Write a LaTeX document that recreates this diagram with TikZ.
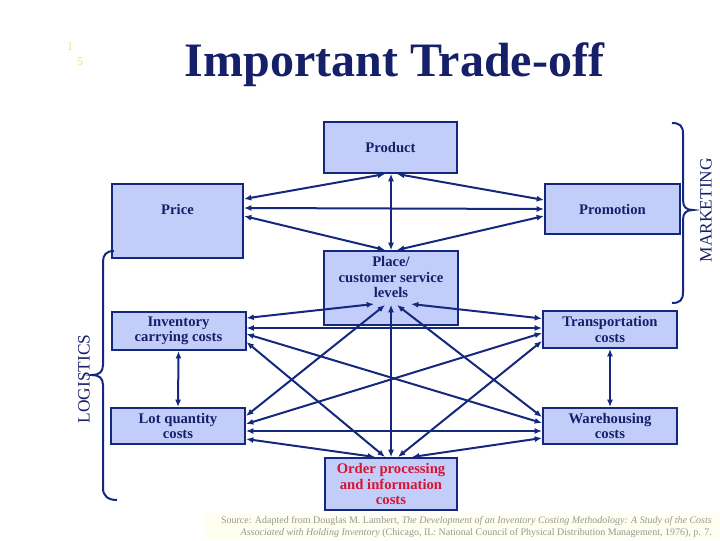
\documentclass[tikz,border=0pt]{standalone}
\usepackage{fontspec}
\setmainfont{Liberation Serif}
\usetikzlibrary{arrows.meta,calc}
\definecolor{navy}{RGB}{20,40,125}
\definecolor{boxfill}{RGB}{194,205,250}
\definecolor{txtnavy}{RGB}{22,32,105}
\definecolor{ordred}{RGB}{215,20,50}
\definecolor{srcbg}{RGB}{255,255,240}
\definecolor{srcgray}{RGB}{150,150,150}
\definecolor{numyel}{RGB}{240,228,110}
\begin{document}
\begin{tikzpicture}[x=0.75pt,y=-0.75pt,
 box/.style={draw=navy,line width=1.5pt,fill=boxfill,inner sep=0pt,align=center,font=\bfseries\fontsize{11}{11.5}\selectfont,text=txtnavy},
 lbl/.style={inner sep=0pt,align=center,font=\bfseries\fontsize{11}{11.5}\selectfont,text=txtnavy},
 link/.style={draw=navy,line width=1.5pt,{Latex[length=5.5pt,width=4.5pt]}-{Latex[length=5.5pt,width=4.5pt]}},
 thinlink/.style={draw=navy,line width=0.8pt,{Latex[length=5.5pt,width=4.5pt]}-{Latex[length=5.5pt,width=4.5pt]}},
 brc/.style={draw=navy,line width=1.5pt},
 side/.style={rotate=90,inner sep=0pt,font=\fontsize{13}{13}\selectfont,text=txtnavy}]
\useasboundingbox (0,0) rectangle (720,540);

% slide number
\node[text=numyel,font=\fontsize{9}{9}\selectfont] (n1) at (70,47) {1};
\node[text=numyel,font=\fontsize{9}{9}\selectfont] (n5) at (80,62) {5};

% title
\node[anchor=base,inner sep=0pt,font=\bfseries\fontsize{36}{36}\selectfont,text=txtnavy] (title) at (394.5,76) {Important Trade-off};

% boxes
\node[box,minimum width=99.75pt,minimum height=38.25pt] (product) at (390.5,147.5) {Product};
\node[box,minimum width=98.25pt,minimum height=55.5pt] (price) at (177.5,221) {};
\node[lbl] (pricet) at (177.5,209) {Price};
\node[box,minimum width=101.25pt,minimum height=37.5pt] (promotion) at (612.5,209) {Promotion};
\node[box,minimum width=100.5pt,minimum height=55.5pt] (place) at (391,288) {};
\node[lbl] (placet) at (391,277) {Place/\\customer service\\levels};
\node[box,minimum width=100.5pt,minimum height=28.5pt] (inventory) at (178.5,331) {Inventory\\carrying costs};
\node[box,minimum width=100.5pt,minimum height=27pt] (lot) at (178,426) {Lot quantity\\costs};
\node[box,minimum width=99pt,minimum height=39pt,text=ordred] (order) at (391,484) {Order processing\\and information\\costs};
\node[box,minimum width=100.5pt,minimum height=27.75pt] (trans) at (610,329.5) {Transportation\\costs};
\node[box,minimum width=100.5pt,minimum height=27pt] (ware) at (610,426) {Warehousing\\costs};

% marketing connectors
\draw[link] ($(product.south)+(-5.5,0)$) -- ($(price.north east)+(0,16)$);
\draw[link] ($(price.north east)+(0,25)$) -- (promotion.west);
\draw[link] ($(price.north east)+(0,33)$) -- ($(place.north)+(-6,0)$);
\draw[thinlink] ($(product.south)+(0.5,0)$) -- (place.north);
\draw[link] ($(product.south)+(6.5,0)$) -- ($(promotion.west)+(0,-9)$);
\draw[link] ($(place.north)+(6,0)$) -- ($(promotion.west)+(0,7)$);

% logistics connectors
\draw[link] ($(place.south)+(-17,-22)$) -- ($(inventory.north east)+(0,7)$);
\draw[link] ($(place.south)+(-6,-21)$) -- ($(lot.north east)+(0,9)$);
\draw[thinlink] ($(place.south)+(0,-21)$) -- (order.north);
\draw[link] ($(place.south)+(6,-21)$) -- ($(ware.north west)+(0,10)$);
\draw[link] ($(place.south)+(20,-22)$) -- ($(trans.north west)+(0,8.5)$);
\draw[link] ($(inventory.north east)+(0,17)$) -- ($(trans.north west)+(0,18)$);
\draw[link] ($(inventory.north east)+(0,23)$) -- ($(ware.north west)+(0,16)$);
\draw[link] ($(inventory.north east)+(0,31)$) -- ($(order.north)+(-6,0)$);
\draw[link] (inventory.south) -- (lot.north);
\draw[link] ($(lot.north east)+(0,17)$) -- ($(trans.north west)+(0,23)$);
\draw[link] ($(lot.north east)+(0,24)$) -- ($(ware.north west)+(0,24)$);
\draw[link] ($(lot.north east)+(0,32)$) -- ($(order.north)+(-16,0)$);
\draw[link] ($(order.north)+(7,0)$) -- ($(trans.north west)+(0,31)$);
\draw[link] ($(order.north)+(21,0)$) -- ($(ware.north west)+(0,31)$);
\draw[link] (trans.south) -- (ware.north);

% braces
\draw[brc] (672,123) .. controls (680,123) and (683,126) .. (683,134) -- (683,200)
  .. controls (683,207) and (686,210) .. (693,210)
  .. controls (686,210) and (683,213) .. (683,220) -- (683,292)
  .. controls (683,300) and (680,303) .. (672,303);
\node[side] (mkt) at (706,210) {MARKETING};

\draw[brc] (114,251) .. controls (106,251) and (103,255) .. (103,262) -- (103,365)
  .. controls (103,372) and (99,375) .. (92,375)
  .. controls (99,375) and (103,378) .. (103,385) -- (103,488)
  .. controls (103,496) and (108,500) .. (117,500);
\node[side] (log) at (84,379) {LOGISTICS};

% source
\fill[srcbg] (205,513) rectangle (720,540);
\node[anchor=east,align=right,inner sep=0pt,text=srcgray,font=\fontsize{7.5}{9}\selectfont] (src) at (712,527)
 {Source: Adapted from Douglas M. Lambert, \textit{The Development of an Inventory Costing Methodology: A Study of the Costs}\\
 \textit{Associated with Holding Inventory} (Chicago, IL: National Council of Physical Distribution Management, 1976), p. 7.};
\end{tikzpicture}
\end{document}
